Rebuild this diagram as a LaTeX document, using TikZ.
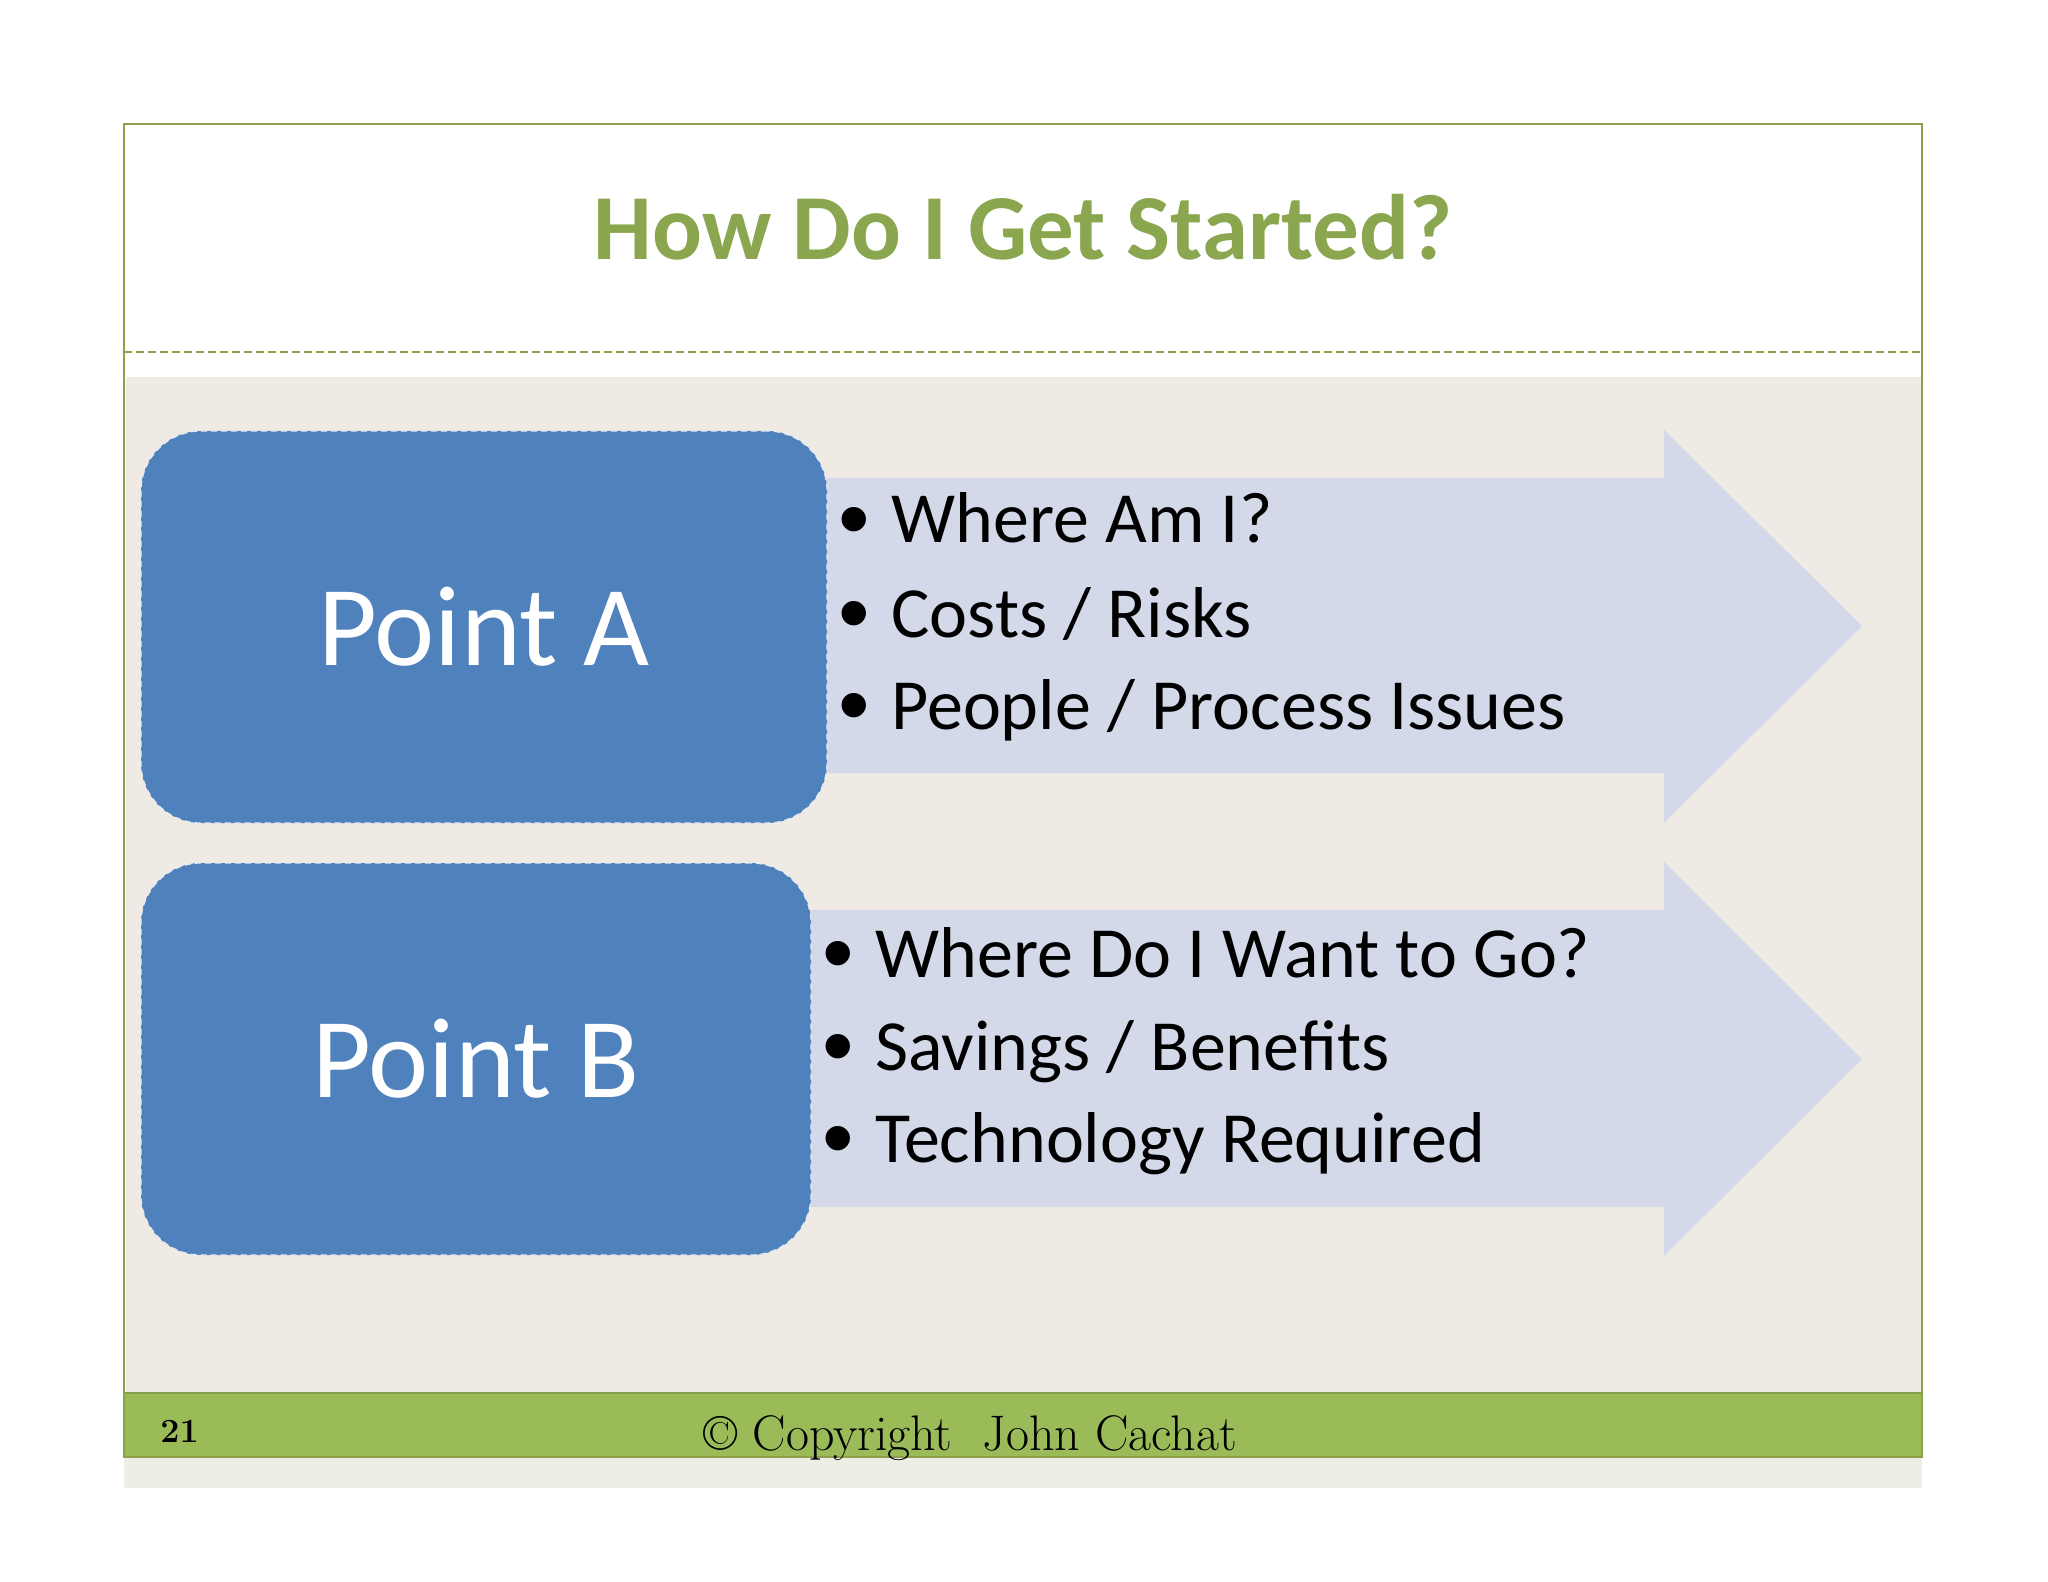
\documentclass[tikz,border=0pt]{standalone}
\usepackage{fontspec}
\setmainfont{Latin Modern Roman}
\newfontfamily\calib{Carlito}
\newfontfamily\arialf{Liberation Sans}
\definecolor{boxblue}{HTML}{4F81BD}
\definecolor{arrowfill}{HTML}{D3D9E8}
\definecolor{beige}{HTML}{EFEBE4}
\definecolor{footgreen}{HTML}{9BBB59}
\definecolor{titlegreen}{HTML}{8AA64E}
\definecolor{frameolive}{HTML}{8EA04A}
\definecolor{stripgrey}{HTML}{EEEDE6}
\tikzset{
  pointbox/.style={draw=white!85!boxblue, densely dashed, line width=0.6pt, fill=boxblue,
    rounded corners=30pt, minimum height=196pt, inner sep=0pt,
    font=\calib\fontsize{57}{68}\selectfont, text=white},
  arrowshape/.style={fill=arrowfill},
  bulletline/.style={anchor=base west, inner sep=0pt, font=\calib\fontsize{36}{43}\selectfont, text=black},
}
\newcommand{\bul}[1]{\makebox[26.5pt][l]{\raisebox{-3.2pt}{\scalebox{1.25}{\arialf •}}}#1}
\begin{document}
\begin{tikzpicture}[x=0.5pt,y=-0.5pt]
\useasboundingbox (0,0) rectangle (2048,1582);
\fill[white] (0,0) rectangle (2048,1582);
% content background
\fill[beige] (126,377) rectangle (1921,1393);
% footer band and strip
\fill[stripgrey] (124,1457) rectangle (1922,1488);
\fill[footgreen] (124,1393) rectangle (1922,1457);
\draw[footgreen!85!black, line width=0.6pt] (124,1393) -- (1922,1393);
% frame and separator
\draw[frameolive, line width=1pt] (124,1457) -- (124,124) -- (1922,124) -- (1922,1457) -- cycle;
\draw[frameolive, dashed, line width=0.6pt, dash pattern=on 4pt off 2pt] (124,352) -- (1922,352);
% title
\node[anchor=base, inner sep=0pt, font=\calib\bfseries\fontsize{46.5}{56}\selectfont, text=titlegreen] (title) at (1023,260) {How Do I Get Started?};
% arrows
\fill[arrowshape] (790,478) -- (1664,478) -- (1664,430) -- (1862,626) -- (1664,823) -- (1664,773) -- (790,773) -- cycle;
\fill[arrowshape] (780,910) -- (1664,910) -- (1664,862) -- (1862,1059) -- (1664,1256) -- (1664,1207) -- (780,1207) -- cycle;
% boxes
\node[pointbox, minimum width=343pt] (pa) at (484,627) {Point A};
\node[pointbox, minimum width=335pt] (pb) at (476,1059) {Point B};
% bullets A
\node[bulletline] (a1) at (838,543) {\bul{Where Am I?}};
\node[bulletline] (a2) at (838,637) {\bul{Costs / Risks}};
\node[bulletline] (a3) at (838,729) {\bul{People / Process Issues}};
% bullets B
\node[bulletline] (b1) at (822,977) {\bul{Where Do I Want to Go?}};
\node[bulletline] (b2) at (822,1070) {\bul{Savings / Benefits}};
\node[bulletline] (b3) at (822,1162) {\bul{Technology Required}};
% footer
\node[anchor=base west, inner sep=0pt, font=\bfseries\fontsize{17}{20}\selectfont] (pg) at (160,1442) {21};
\node[anchor=base west, inner sep=0pt, font=\fontsize{25}{30}\selectfont] (copy) at (703,1450) {\textcopyright\ Copyright\ \ John Cachat};
\end{tikzpicture}
\end{document}
